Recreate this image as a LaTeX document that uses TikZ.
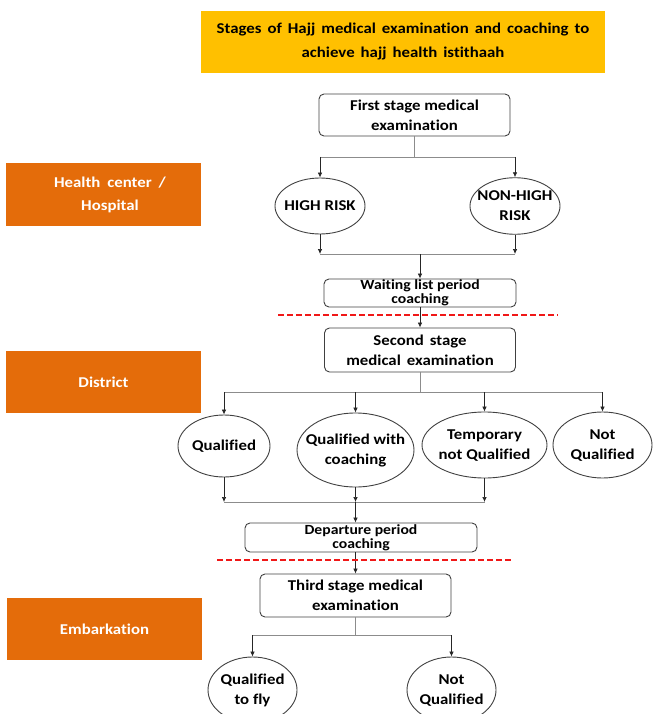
\documentclass[tikz,border=0pt]{standalone}
\usepackage{fontspec}
\setmainfont[FakeStretch=1.12, Ligatures=NoCommon]{Carlito}
\usetikzlibrary{shapes.geometric,arrows.meta}
\definecolor{titleyellow}{HTML}{FFC000}
\definecolor{orangebox}{HTML}{E46C0A}
\definecolor{cutred}{HTML}{F01818}
\newcommand\tw[1]{\makebox[0pt]{\begin{tabular}{@{}c@{}}#1\end{tabular}}}
\newcommand\widesp[1]{\spaceskip=#1 plus 1pt\relax}
\begin{document}
\begin{tikzpicture}[x=1pt,y=-1pt,
 font=\bfseries\fontsize{15}{20}\selectfont,
 box/.style={draw=black!75, line width=0.9pt, rounded corners=5pt, align=center, inner sep=0pt},
 smallbox/.style={box, font=\bfseries\fontsize{14}{14}\selectfont},
 ell/.style={ellipse, draw=black!75, line width=0.9pt, align=center, inner sep=0pt},
 lab/.style={fill=orangebox, text=white, align=center, inner sep=0pt, minimum width=195pt, minimum height=62pt,
   font=\bfseries\fontsize{15}{23}\selectfont},
 arr/.style={-{Latex[length=5pt,width=4.5pt]}, line width=0.7pt, black!85},
 stem/.style={line width=0.6pt, black!45},
 cut/.style={cutred, dash pattern=on 6pt off 3pt, line width=1.6pt}]
\useasboundingbox (0,0) rectangle (653,714);
\clip (0,0) rectangle (653,714);
% title
\node[fill=titleyellow, minimum width=404pt, minimum height=62pt, align=center, inner sep=0pt,
      font={\bfseries\fontsize{15}{24}\selectfont\widesp{6pt}}] (title) at (403,42)
  {\raisebox{-3pt}{Stages of Hajj medical examination and coaching to}\\\raisebox{-3pt}{achieve hajj health istithaah}};
% side labels
\node[lab, font={\bfseries\fontsize{15}{23}\selectfont\widesp{7pt}}] (hc) at (103.5,194.5) {\hspace*{13pt}Health center /\\\hspace*{13pt}Hospital};
\node[lab] (dist) at (103.5,382) {District};
\node[lab] (emb) at (104.5,629) {Embarkation};
% stage 1
\node[box, minimum width=191pt, minimum height=42pt] (first) at (414.5,115) {First stage medical\\examination};
\node[ell, minimum width=90pt, minimum height=56pt] (hr) at (320,206) {\tw{HIGH RISK}};
\node[ell, minimum width=90pt, minimum height=56pt] (nhr) at (515,206) {\tw{NON-HIGH\\RISK}};
\node[smallbox, minimum width=192pt, minimum height=28pt] (wait) at (420,293) {Waiting list period\\coaching};
% stage 2
\node[box, minimum width=191pt, minimum height=44pt, font={\bfseries\fontsize{15}{20}\selectfont\widesp{6pt}}] (second) at (420,350) {Second stage\\medical examination};
\node[ell, minimum width=92pt, minimum height=62pt] (q) at (224,446) {\tw{Qualified}};
\node[ell, minimum width=117pt, minimum height=74pt] (qc) at (355.5,450) {\tw{Qualified with\\coaching}};
\node[ell, minimum width=125pt, minimum height=66pt] (tq) at (484.5,445) {\tw{Temporary\\not Qualified}};
\node[ell, minimum width=99pt, minimum height=66pt] (nq) at (602.5,445) {\tw{Not\\Qualified}};
\node[smallbox, minimum width=232pt, minimum height=29pt] (dep) at (361,537.5) {Departure period\\coaching};
% stage 3
\node[box, minimum width=191pt, minimum height=43pt] (third) at (355.5,595.5) {Third stage medical\\examination};
\node[ell, minimum width=89pt, minimum height=66pt] (fly) at (252.5,690) {\tw{Qualified\\to fly}};
\node[ell, minimum width=89pt, minimum height=66pt] (nq3) at (451.5,690) {\tw{Not\\Qualified}};
% junctions
\coordinate (j1) at (0,157);
\coordinate (m1) at (0,254);
\coordinate (j2) at (0,392);
\coordinate (m2) at (0,502);
\coordinate (j3) at (0,635);
% connectors stage 1
\draw[stem] (first.south) -- (first.south |- j1);
\draw[stem] (hr.north |- j1) -- (nhr.north |- j1);
\draw[arr] (hr.north |- j1) -- (hr.north);
\draw[arr] (nhr.north |- j1) -- (nhr.north);
\draw[arr] (hr.south) -- (hr.south |- m1);
\draw[arr] (nhr.south) -- (nhr.south |- m1);
\draw[stem] (hr.south |- m1) -- (nhr.south |- m1);
\draw[arr] (wait.north |- m1) -- (wait.north);
\draw[arr] (wait.south) -- (second.north);
% stage 2
\draw[stem] (second.south) -- (second.south |- j2);
\draw[stem] (q.north |- j2) -- (nq.north |- j2);
\draw[arr] (q.north |- j2) -- (q.north);
\draw[arr] (qc.north |- j2) -- (qc.north);
\draw[arr] (tq.north |- j2) -- (tq.north);
\draw[arr] (nq.north |- j2) -- (nq.north);
\draw[arr] (q.south) -- (q.south |- m2);
\draw[arr] (qc.south) -- (qc.south |- m2);
\draw[arr] (tq.south) -- (tq.south |- m2);
\draw[stem] (q.south |- m2) -- (tq.south |- m2);
\draw[arr] (qc.south |- m2) -- (qc.south |- dep.north);
\draw[arr] (qc.south |- dep.south) -- (third.north);
% stage 3
\draw[stem] (third.south) -- (third.south |- j3);
\draw[stem] (fly.north |- j3) -- (nq3.north |- j3);
\draw[arr] (fly.north |- j3) -- (fly.north);
\draw[arr] (nq3.north |- j3) -- (nq3.north);
% cut lines
\coordinate (c1a) at (278,315); \coordinate (c1b) at (558,315);
\coordinate (c2a) at (217,560); \coordinate (c2b) at (512,560);
\draw[cut] (c1a) -- (c1b);
\draw[cut] (c2a) -- (c2b);
\end{tikzpicture}
\end{document}
